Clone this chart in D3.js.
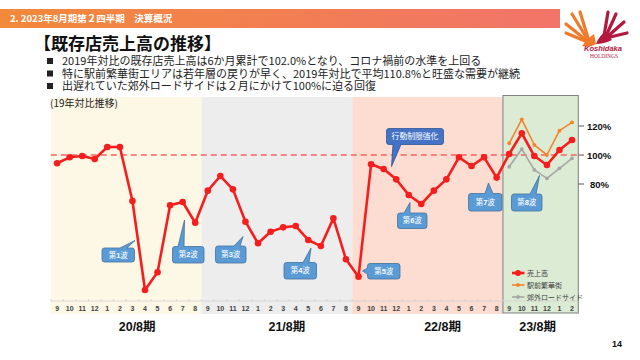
<!DOCTYPE html>
<html><head><meta charset="utf-8">
<script src="https://cdn.jsdelivr.net/npm/d3@7"></script>
<style>
body{margin:0;background:#fff;}
svg{display:block;font-family:"Noto Sans CJK JP","Noto Sans",sans-serif;}
</style>
</head><body>
<svg id="c" width="640" height="360"></svg>
<script>
// ---------------- data ----------------
const headerText = "2. 2023年8月期第２四半期　決算概況";
const titleText = "【既存店売上高の推移】";
const bullets = [
  "2019年対比の既存店売上高は6か月累計で102.0%となり、コロナ禍前の水準を上回る",
  "特に駅前繁華街エリアは若年層の戻りが早く、2019年対比で平均110.8%と旺盛な需要が継続",
  "出遅れていた郊外ロードサイドは２月にかけて100%に迫る回復"
];
const chartNote = "(19年対比推移)";
const months = ["9","10","11","12","1","2","3","4","5","6","7","8",
                "9","10","11","12","1","2","3","4","5","6","7","8",
                "9","10","11","12","1","2","3","4","5","6","7","8",
                "9","10","11","12","1","2"];
const periods = ["20/8期","21/8期","22/8期","23/8期"];
const periodLengths = [12,12,12,6];
// 売上高 (19年対比 %)
const sales = [94.3,98.4,99.3,97.2,105.5,105.5,68.3,6.9,19.1,65.3,67.6,53.3,
               75.4,85.5,76.3,54.0,39.1,47.1,50.1,51.0,41.4,37.2,56.3,28.1,
               16.1,93.6,90.3,83.2,72.4,66.2,75.4,83.2,98.4,92.4,98.4,84.4,
               100.7,115.0,99.3,93.1,103.4,110.3];
// 23/8期 (9月〜2月)
const ekimae = [108.1,124.6,106.9,100.0,116.8,122.5];
const roadside = [91.9,104.1,89.7,83.9,90.8,97.7];
const yTicks = [80,100,120];
const legendLabels = ["売上高","駅前繁華街","郊外ロードサイド"];
const waveLabels = ["第1波","第2波","第3波","第4波","第5波","第6波","第7波","第8波"];
const restrictionLabel = "行動制限強化";
const pageNo = "14";

// ---------------- drawing ----------------
const svg = d3.select("#c");
const defs = svg.append("defs");
const grad = defs.append("linearGradient").attr("id","hdr").attr("x1","0").attr("x2","1");
grad.append("stop").attr("offset","0").attr("stop-color","#F2893A");
grad.append("stop").attr("offset","1").attr("stop-color","#F2746A");

// header bar
svg.append("rect").attr("x",0).attr("y",9).attr("width",560).attr("height",19).attr("fill","url(#hdr)");
svg.append("text").attr("x",10).attr("y",22).attr("fill","#fff").attr("font-size",9.5).attr("font-weight","bold").text(headerText);

// logo
const logo = svg.append("g");
[[588,40,572,14],[586,40,566,24],[585,41,566,33],[589,41,580,12]].forEach(d=>{
  logo.append("path").attr("d",`M${d[0]},${d[1]} L${d[2]},${d[3]}`).attr("stroke","#F07A2B").attr("stroke-width",3.2).attr("stroke-linecap","round");
});
logo.append("path").attr("d","M582,46 Q588,38 594,34 L596,44 Q590,48 582,46Z").attr("fill","#F07A2B");
[[604,36,608,12],[606,36,616,14],[607,37,624,22],[606,38,627,33]].forEach(d=>{
  logo.append("path").attr("d",`M${d[0]},${d[1]} L${d[2]},${d[3]}`).attr("stroke","#B3183F").attr("stroke-width",3.2).attr("stroke-linecap","round");
});
logo.append("path").attr("d","M596,44 Q600,34 606,32 L612,40 Q604,44 596,44Z").attr("fill","#B3183F");
logo.append("text").attr("x",603).attr("y",51).attr("text-anchor","middle").attr("font-size",7.5).attr("font-style","italic").attr("font-weight","bold")
  .attr("font-family","Liberation Sans, Arial, sans-serif").attr("fill","#B3183F").text("Koshidaka");
logo.append("text").attr("x",604).attr("y",58).attr("text-anchor","middle").attr("font-size",5.5)
  .attr("font-family","Liberation Serif, serif").attr("fill","#B3183F").text("HOLDINGS");

// title & bullets
svg.append("text").attr("x",34).attr("y",50).attr("font-size",17).attr("font-weight","bold").attr("fill","#111").text(titleText);
bullets.forEach((b,i)=>{
  const yy = 65 + i*12.5;
  svg.append("rect").attr("x",47).attr("y",yy-7).attr("width",6).attr("height",6).attr("fill","#222");
  svg.append("text").attr("x",62).attr("y",yy).attr("font-size",11).attr("fill","#222").text(b);
});

// scales
const x = d3.scaleBand().domain(d3.range(months.length)).range([50.8,578.3]).padding(0);
const xc = i => x(i) + x.bandwidth()/2;
const y = d3.scaleLinear().domain([80,120]).range([184,126]);

// period bands
const bandFill = ["#FDF7E5","#EDEDED","#FDDCD2","#DCEBD3"];
let start = 0;
const periodStarts = [];
periodLengths.forEach((n,p)=>{
  periodStarts.push(start);
  const x0 = x(start), x1 = (start+n<months.length) ? x(start+n) : x.range()[1];
  if(p<3){
    svg.append("rect").attr("x",x0).attr("y",97).attr("width",x1-x0).attr("height",217).attr("fill",bandFill[p]);
  } else {
    svg.append("rect").attr("x",x0).attr("y",95.5).attr("width",x1-x0).attr("height",217.5).attr("fill",bandFill[p])
      .attr("stroke","#7F7F7F").attr("stroke-width",1);
  }
  start += n;
});

svg.append("text").attr("x",50).attr("y",107).attr("font-size",10).attr("fill","#222").text(chartNote);

// bottom axis
const axisY = 301;
svg.append("line").attr("x1",x.range()[0]).attr("x2",x.range()[1]).attr("y1",axisY).attr("y2",axisY).attr("stroke","#D0D0D0").attr("stroke-width",0.8);
d3.range(months.length+1).forEach(i=>{
  const xx = i<months.length ? x(i) : x.range()[1];
  svg.append("line").attr("x1",xx).attr("x2",xx).attr("y1",axisY-2).attr("y2",axisY).attr("stroke","#D0D0D0").attr("stroke-width",0.8);
});
svg.append("g").selectAll("text").data(months).join("text")
  .attr("x",(d,i)=>xc(i)).attr("y",311).attr("text-anchor","middle")
  .attr("font-size",7).attr("font-weight","bold").attr("font-family","Liberation Sans, Arial, sans-serif")
  .attr("fill","#404040").text(d=>d);

// period labels
const periodShift = [11,10,15,-3];
periods.forEach((p,k)=>{
  const cx = (x(periodStarts[k]) + (periodStarts[k]+periodLengths[k]<months.length ? x(periodStarts[k]+periodLengths[k]) : x.range()[1]))/2;
  svg.append("text").attr("x",cx+periodShift[k]).attr("y",331).attr("text-anchor","middle")
    .attr("font-size",12.5).attr("font-weight","bold").attr("fill","#111")
    .attr("font-family","Liberation Sans, Noto Sans CJK JP, sans-serif").text(p);
});

// right axis
yTicks.forEach(t=>{
  svg.append("line").attr("x1",578.5).attr("x2",584).attr("y1",y(t)).attr("y2",y(t)).attr("stroke","#595959").attr("stroke-width",1);
  svg.append("text").attr("x",t===80?590:587).attr("y",y(t)+3.5).attr("font-size",9.5).attr("font-weight","bold")
    .attr("font-family","Liberation Sans, Arial, sans-serif").attr("fill","#111").text(t+"%");
});

// 100% dashed reference
svg.append("line").attr("x1",x.range()[0]).attr("x2",x.range()[1]).attr("y1",y(100)).attr("y2",y(100))
  .attr("stroke","#EF6464").attr("stroke-width",1.6).attr("stroke-dasharray","6,4");

// series
const offset = periodStarts[3];
const line = d3.line().x(d=>xc(d.i)).y(d=>y(d.v));
const grayPts = roadside.map((v,k)=>({i:offset+k,v}));
const orangePts = ekimae.map((v,k)=>({i:offset+k,v}));
const redPts = sales.map((v,i)=>({i,v}));
function series(pts,color,w,r){
  svg.append("path").attr("d",line(pts)).attr("fill","none").attr("stroke",color).attr("stroke-width",w).attr("stroke-linejoin","round");
  svg.append("g").selectAll("circle").data(pts).join("circle").attr("cx",d=>xc(d.i)).attr("cy",d=>y(d.v)).attr("r",r).attr("fill",color);
}
series(grayPts,"#A6A6A6",1.6,1.9);
series(orangePts,"#F4832E",1.6,1.9);
series(redPts,"#F51E1E",2.6,3.3);

// callouts
function bubble(x0,y0,x1,y1,r,side,a,b,tx,ty){
  const p = d3.path();
  p.moveTo(x0+r,y0);
  if(side==="top"){p.lineTo(a,y0);p.lineTo(tx,ty);p.lineTo(b,y0);}
  p.lineTo(x1-r,y0); p.arcTo(x1,y0,x1,y0+r,r);
  p.lineTo(x1,y1-r); p.arcTo(x1,y1,x1-r,y1,r);
  if(side==="bottom"){p.lineTo(b,y1);p.lineTo(tx,ty);p.lineTo(a,y1);}
  p.lineTo(x0+r,y1); p.arcTo(x0,y1,x0,y1-r,r);
  if(side==="left"){p.lineTo(x0,b);p.lineTo(tx,ty);p.lineTo(x0,a);}
  p.lineTo(x0,y0+r); p.arcTo(x0,y0,x0+r,y0,r);
  p.closePath();
  return p.toString();
}
const callouts = [
  {t:waveLabels[0], b:[102,248,134.5,262], side:"top", a:120,bb:127, tip:[135,240.5]},
  {t:waveLabels[1], b:[172.5,246.5,204,263], side:"top", a:178,bb:184, tip:[184.5,220]},
  {t:waveLabels[2], b:[215.5,246,246,263], side:"top", a:234,bb:240, tip:[243,236.5]},
  {t:waveLabels[3], b:[284,262.5,316.5,279], side:"top", a:303,bb:309, tip:[311,248]},
  {t:waveLabels[4], b:[367.5,263.5,400,279], side:"left", a:268,bb:274, tip:[362.5,271]},
  {t:waveLabels[5], b:[397.5,213,427,228.5], side:"top", a:404,bb:410, tip:[410,202.5]},
  {t:waveLabels[6], b:[468.5,193.5,502,211], side:"top", a:485,bb:493, tip:[488.5,183]},
  {t:waveLabels[7], b:[511.5,194,542,211], side:"top", a:530,bb:536, tip:[539.5,175.5]},
  {t:restrictionLabel, b:[386.5,128.5,443.5,144.5], side:"bottom", a:393,bb:401, tip:[391.5,166.5], dark:true}
];
callouts.forEach(c=>{
  const [x0,y0,x1,y1] = c.b;
  svg.append("path").attr("d",bubble(x0,y0,x1,y1,2.5,c.side,c.a,c.bb,c.tip[0],c.tip[1]))
    .attr("fill",c.dark?"#4472C4":"#5B9BD5").attr("stroke",c.dark?"#2F5597":"#41719C").attr("stroke-width",0.8);
  const txt = svg.append("text").attr("x",(x0+x1)/2).attr("y",(y0+y1)/2+2.7).attr("text-anchor","middle")
    .attr("font-size",c.dark?7.8:7.5).attr("fill","#fff");
  const m = c.t.match(/^(第)(\d)(波)$/);
  if(m){
    txt.append("tspan").text(m[1]);
    txt.append("tspan").attr("font-weight","bold").attr("font-family","Liberation Sans, Arial, sans-serif").text(m[2]);
    txt.append("tspan").text(m[3]);
  } else txt.text(c.t);
});

// legend
const legColors = ["#F51E1E","#F4832E","#A6A6A6"];
legendLabels.forEach((l,k)=>{
  const ly = 273 + k*12;
  svg.append("line").attr("x1",512).attr("x2",524.5).attr("y1",ly).attr("y2",ly).attr("stroke",legColors[k]).attr("stroke-width",k===0?2.6:1.6);
  svg.append("circle").attr("cx",518).attr("cy",ly).attr("r",k===0?3:1.9).attr("fill",legColors[k]);
  svg.append("text").attr("x",527).attr("y",ly+2.6).attr("font-size",7).attr("fill","#404040").text(l);
});

// page number
svg.append("text").attr("x",622).attr("y",347).attr("text-anchor","end").attr("font-size",9).attr("font-weight","bold")
  .attr("font-family","Liberation Sans, Arial, sans-serif").attr("fill","#111").text(pageNo);
</script>
</body></html>
